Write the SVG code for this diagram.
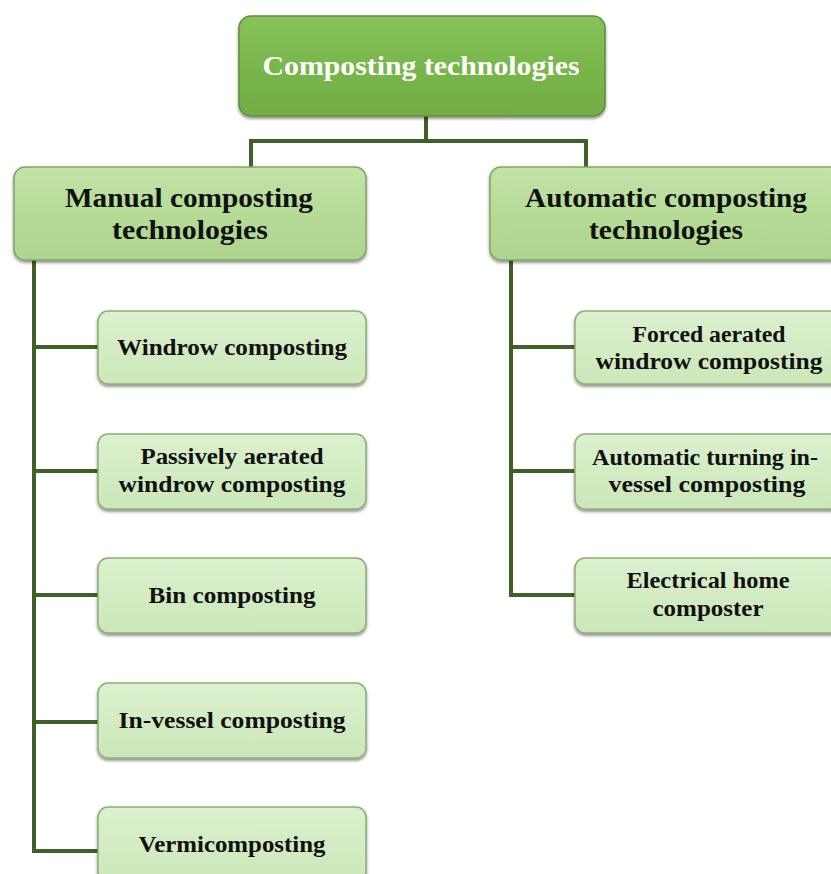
<svg xmlns="http://www.w3.org/2000/svg" width="831" height="874" viewBox="0 0 831 874">
<defs>
<linearGradient id="gTop" x1="0" y1="0" x2="0" y2="1">
<stop offset="0" stop-color="#86c25a"/><stop offset="0.5" stop-color="#79b74b"/><stop offset="1" stop-color="#71ad45"/>
</linearGradient>
<linearGradient id="gMid" x1="0" y1="0" x2="0" y2="1">
<stop offset="0" stop-color="#c2e3a9"/><stop offset="0.5" stop-color="#b5dc97"/><stop offset="1" stop-color="#add590"/>
</linearGradient>
<linearGradient id="gLeaf" x1="0" y1="0" x2="0" y2="1">
<stop offset="0" stop-color="#dcf0cf"/><stop offset="0.5" stop-color="#d3ecc3"/><stop offset="1" stop-color="#cce7ba"/>
</linearGradient>
<filter id="sh" x="-10%" y="-10%" width="120%" height="130%">
<feDropShadow dx="0" dy="2" stdDeviation="1.5" flood-color="#000" flood-opacity="0.45"/>
</filter>
</defs>
<style>
.top{fill:url(#gTop);stroke:#5f8f3c;stroke-width:1.5;filter:url(#sh)}
.mid{fill:url(#gMid);stroke:#7fa864;stroke-width:1.5;filter:url(#sh)}
.leaf{fill:url(#gLeaf);stroke:#8cb073;stroke-width:1.5;filter:url(#sh)}
text{font-family:"Liberation Serif","Times New Roman",serif;font-weight:bold;text-anchor:middle;fill:#111}
.t0{font-size:28px;fill:#fff}
.t1{font-size:27px}
.t2{font-size:22.5px}
.conn{fill:none;stroke:#3f6027;stroke-width:4;stroke-linejoin:miter}
</style>
<g id="connectors">
<path class="conn" d="M426,116 V141 M251,167 V141 H586 V167"/>
<path class="conn" d="M34,260 V851 H98 M34,347 H98 M34,471 H98 M34,595 H98 M34,722 H98"/>
<path class="conn" d="M511,260 V595 H575 M511,347 H575 M511,471 H575"/>
</g>
<g id="root">
<rect class="top" x="239" y="16" width="366" height="100" rx="12"/>
<text class="t0" x="421" y="75" textLength="317" lengthAdjust="spacingAndGlyphs">Composting technologies</text>
</g>
<g id="manual">
<rect class="mid" x="14" y="167" width="352" height="93" rx="11"/>
<text class="t1" x="189" y="207" textLength="248" lengthAdjust="spacingAndGlyphs">Manual composting</text>
<text class="t1" x="190" y="239" textLength="156" lengthAdjust="spacingAndGlyphs">technologies</text>
</g>
<g id="automatic">
<rect class="mid" x="490" y="167" width="352" height="93" rx="11"/>
<text class="t1" x="666" y="207" textLength="282" lengthAdjust="spacingAndGlyphs">Automatic composting</text>
<text class="t1" x="666" y="239" textLength="154" lengthAdjust="spacingAndGlyphs">technologies</text>
</g>
<g id="windrow">
<rect class="leaf" x="98" y="311" width="268" height="73" rx="10"/>
<text class="t2" x="232" y="355" textLength="230" lengthAdjust="spacingAndGlyphs">Windrow composting</text>
</g>
<g id="passive">
<rect class="leaf" x="98" y="434" width="268" height="75" rx="10"/>
<text class="t2" x="232" y="464" textLength="183" lengthAdjust="spacingAndGlyphs">Passively aerated</text>
<text class="t2" x="232" y="492" textLength="227" lengthAdjust="spacingAndGlyphs">windrow composting</text>
</g>
<g id="bin">
<rect class="leaf" x="98" y="558" width="268" height="75" rx="10"/>
<text class="t2" x="232" y="603" textLength="167" lengthAdjust="spacingAndGlyphs">Bin composting</text>
</g>
<g id="invessel">
<rect class="leaf" x="98" y="683" width="268" height="75" rx="10"/>
<text class="t2" x="232" y="728" textLength="227" lengthAdjust="spacingAndGlyphs">In-vessel composting</text>
</g>
<g id="vermi">
<rect class="leaf" x="98" y="807" width="268" height="75" rx="10"/>
<text class="t2" x="232" y="852" textLength="187" lengthAdjust="spacingAndGlyphs">Vermicomposting</text>
</g>
<g id="forced">
<rect class="leaf" x="575" y="311" width="268" height="73" rx="10"/>
<text class="t2" x="709" y="342" textLength="153" lengthAdjust="spacingAndGlyphs">Forced aerated</text>
<text class="t2" x="709" y="369" textLength="227" lengthAdjust="spacingAndGlyphs">windrow composting</text>
</g>
<g id="autoturn">
<rect class="leaf" x="575" y="434" width="268" height="75" rx="10"/>
<text class="t2" x="705" y="465" textLength="226" lengthAdjust="spacingAndGlyphs">Automatic turning in-</text>
<text class="t2" x="707" y="492" textLength="197" lengthAdjust="spacingAndGlyphs">vessel composting</text>
</g>
<g id="electrical">
<rect class="leaf" x="575" y="558" width="268" height="75" rx="10"/>
<text class="t2" x="708" y="588" textLength="163" lengthAdjust="spacingAndGlyphs">Electrical home</text>
<text class="t2" x="708" y="616" textLength="111" lengthAdjust="spacingAndGlyphs">composter</text>
</g>
</svg>
